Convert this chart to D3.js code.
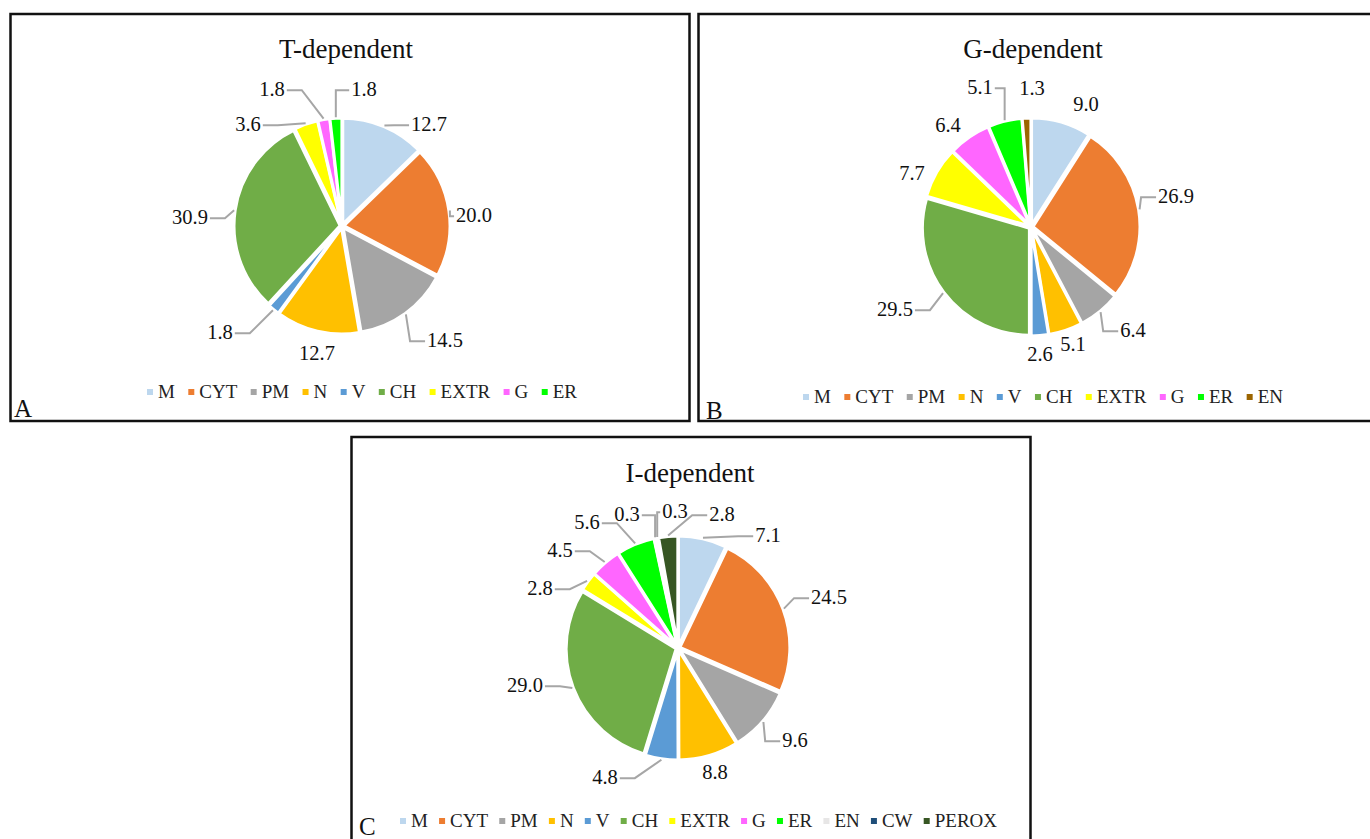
<!DOCTYPE html>
<html>
<head>
<meta charset="utf-8">
<script src="https://cdn.jsdelivr.net/npm/d3@7"></script>
<style>
  html, body { margin: 0; padding: 0; background: #fff; }
  svg text { font-family: "Liberation Serif", "Times New Roman", serif; }
</style>
</head>
<body>
<script>
// ---- Data: share (%) of proteins by subcellular location ----
const categoriesT = ["M", "CYT", "PM", "N", "V", "CH", "EXTR", "G", "ER"];
const valuesT     = [12.7, 20.0, 14.5, 12.7, 1.8, 30.9, 3.6, 1.8, 1.8];

const categoriesG = ["M", "CYT", "PM", "N", "V", "CH", "EXTR", "G", "ER", "EN"];
const valuesG     = [9.0, 26.9, 6.4, 5.1, 2.6, 29.5, 7.7, 6.4, 5.1, 1.3];

const categoriesI = ["M", "CYT", "PM", "N", "V", "CH", "EXTR", "G", "ER", "EN", "CW", "PEROX"];
const valuesI     = [7.1, 24.5, 9.6, 8.8, 4.8, 29.0, 2.8, 4.5, 5.6, 0.3, 0.3, 2.8];

const titles = ["T-dependent", "G-dependent", "I-dependent"];
const panelLetters = ["A", "B", "C"];

// ---- Styles ----
const FONT = "Liberation Serif, Times New Roman, serif";
const baseColors = {
  M: "#BDD7EE", CYT: "#ED7D31", PM: "#A5A5A5", N: "#FFC000", V: "#5B9BD5",
  CH: "#70AD47", EXTR: "#FFFF00", G: "#FF66FF", ER: "#00FF00",
  CW: "#1F4E79", PEROX: "#375623"
};
const enColorG = "#9C6500";
const enColorI = "#E7E6E6";

// ---- Label layout: [dx, dy from pie centre, draw leader line] ----
const labelLayoutT = [[87,-102,1],[132,-11,1],[103,114,1],[-25,127,0],[-122,106,1],[-152,-9,1],[-94,-102,1],[-70,-137,1],[22,-137,1]];
const labelLayoutG = [[55,-123,0],[145,-31,1],[102,103,1],[42,117,0],[9,127,0],[-136,82,1],[-119,-54,0],[-83,-102,0],[-51,-140,1],[1,-139,0]];
const labelLayoutI = [[90,-113,1],[151,-51,1],[117,92,1],[37,124,0],[-73,129,1],[-153,37,1],[-138,-60,1],[-118,-98,1],[-91,-126,1],[-51,-134,1],[-3,-137,1],[44,-134,1]];

const W = 1370, H = 839;
const svg = d3.select("body").append("svg").attr("width", W).attr("height", H);
svg.append("rect").attr("width", W).attr("height", H).attr("fill", "#fff");

const panels = [
  {
    cats: categoriesT, vals: valuesT, title: titles[0], letter: panelLetters[0],
    colors: categoriesT.map(c => baseColors[c]), layout: labelLayoutT,
    box: [10.5, 14, 679, 407], cx: 342, cy: 226, r: 106,
    titleX: 346, titleY: 58, letterX: 14, letterY: 417,
    legendX0: 147, legendX1: 577, legendY: 391
  },
  {
    cats: categoriesG, vals: valuesG, title: titles[1], letter: panelLetters[1],
    colors: categoriesG.map(c => c === "EN" ? enColorG : baseColors[c]), layout: labelLayoutG,
    box: [698.5, 14, 690, 407], cx: 1031, cy: 227, r: 107,
    titleX: 1033, titleY: 58, letterX: 706, letterY: 419,
    legendX0: 803, legendX1: 1283, legendY: 396
  },
  {
    cats: categoriesI, vals: valuesI, title: titles[2], letter: panelLetters[2],
    colors: categoriesI.map(c => c === "EN" ? enColorI : baseColors[c]), layout: labelLayoutI,
    box: [351.5, 437, 679, 420], cx: 678, cy: 648, r: 110,
    titleX: 690, titleY: 482, letterX: 359, letterY: 835,
    legendX0: 400, legendX1: 997, legendY: 820
  }
];

const EXPLODE = 2;

panels.forEach(p => {
  const g = svg.append("g");

  // frame
  g.append("rect")
    .attr("x", p.box[0]).attr("y", p.box[1])
    .attr("width", p.box[2]).attr("height", p.box[3])
    .attr("fill", "none").attr("stroke", "#111").attr("stroke-width", 2.5);

  // title
  g.append("text")
    .attr("x", p.titleX).attr("y", p.titleY)
    .attr("text-anchor", "middle")
    .attr("font-family", FONT)
    .attr("font-size", 27).attr("fill", "#111")
    .text(p.title);

  // panel letter
  g.append("text")
    .attr("x", p.letterX).attr("y", p.letterY)
    .attr("font-family", FONT)
    .attr("font-size", 25).attr("fill", "#111")
    .text(p.letter);

  const data = p.cats.map((c, i) => ({ cat: c, value: p.vals[i], color: p.colors[i], layout: p.layout[i] }));
  const pie = d3.pie().sort(null).value(d => d.value).startAngle(0).endAngle(2 * Math.PI);
  const arcs = pie(data);
  const arc = d3.arc().innerRadius(0).outerRadius(p.r);

  const mid = a => (a.startAngle + a.endAngle) / 2;

  // slices (slightly exploded, with white separators)
  g.selectAll("path.slice").data(arcs).enter().append("path")
    .attr("class", "slice")
    .attr("transform", a => {
      const m = mid(a);
      return `translate(${p.cx + EXPLODE * Math.sin(m)},${p.cy - EXPLODE * Math.cos(m)})`;
    })
    .attr("d", arc)
    .attr("fill", a => a.data.color)
    .attr("stroke", "#fff").attr("stroke-width", 3).attr("stroke-linejoin", "miter");

  // data labels and leader lines
  const leaderG = g.append("g");
  arcs.forEach(a => {
    const [dx, dy, useLeader] = a.data.layout;
    const t = g.append("text")
      .attr("x", p.cx + dx).attr("y", p.cy + dy)
      .attr("dy", "0.35em")
      .attr("text-anchor", "middle")
      .attr("font-family", FONT)
      .attr("font-size", 20.5).attr("fill", "#111")
      .text(a.data.value.toFixed(1));
    if (!useLeader) return;
    const b = t.node().getBBox();
    const m = mid(a);
    const rr = p.r + EXPLODE + 1;
    const P = [p.cx + rr * Math.sin(m), p.cy - rr * Math.cos(m)];
    const ly = b.y + b.height / 2 + 1;
    let E, K;
    if (P[0] < b.x) {
      E = [b.x - 2, ly];
      K = [Math.max(P[0], E[0] - 15), ly];
    } else if (P[0] > b.x + b.width) {
      E = [b.x + b.width + 2, ly];
      K = [Math.min(P[0], E[0] + 15), ly];
    } else {
      E = P[1] > b.y + b.height ? [P[0], b.y + b.height + 1] : [P[0], b.y - 1];
      K = E;
    }
    leaderG.append("path")
      .attr("d", d3.line()([P, K, E]))
      .attr("fill", "none").attr("stroke", "#A6A6A6").attr("stroke-width", 2);
  });

  // legend: laid out across the span, items evenly spaced
  const lg = g.append("g");
  const MARK = 6, MGAP = 5;
  const items = data.map(d => {
    const it = lg.append("g");
    it.append("rect").attr("width", MARK).attr("height", MARK).attr("fill", d.color)
      .attr("y", -MARK / 2 + 1);
    const tx = it.append("text").attr("x", MARK + MGAP).attr("dy", "0.35em")
      .attr("font-family", FONT)
      .attr("font-size", 19).attr("fill", "#222").text(d.cat);
    const w = MARK + MGAP + tx.node().getComputedTextLength();
    return { node: it, w };
  });
  const content = d3.sum(items, d => d.w);
  const gap = (p.legendX1 - p.legendX0 - content) / (items.length - 1);
  let x = p.legendX0;
  items.forEach(it => {
    it.node.attr("transform", `translate(${x},${p.legendY})`);
    x += it.w + gap;
  });
});
</script>
</body>
</html>
